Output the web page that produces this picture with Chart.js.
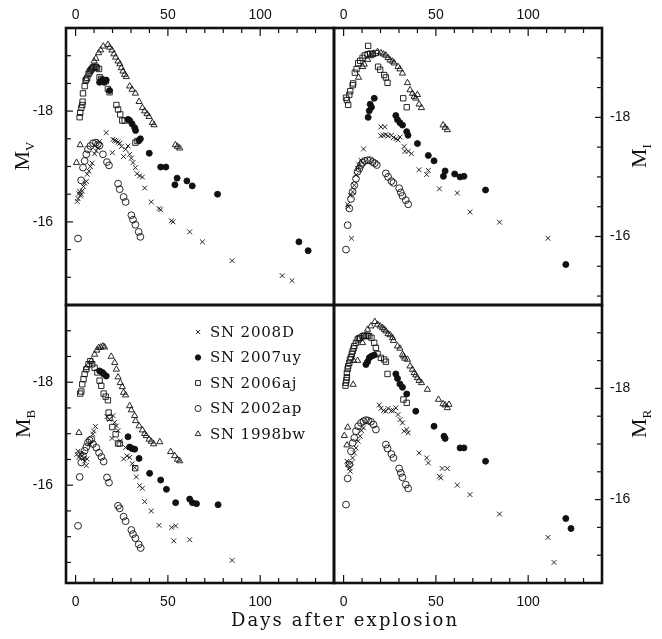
<!DOCTYPE html>
<html>
<head>
<meta charset="utf-8">
<title>SN light curves</title>
<script src="https://cdn.jsdelivr.net/npm/chart.js@4.4.1/dist/chart.umd.min.js"></script>
<style>
  body { margin: 0; background: #fff; }
  #wrap { position: relative; width: 662px; height: 639px; overflow: hidden; background: #fff; }
  #wrap canvas { position: absolute; left: 0; top: 0; }
  .ylab { position: absolute; font-family: "Liberation Serif", serif; font-size: 22px; line-height: 1;
          white-space: nowrap; color: #111; transform: translate(-50%, -50%) rotate(-90deg); }
  .ylab sub { font-size: 13px; vertical-align: -5px; }
  #xtitle { position: absolute; left: 345px; top: 611px; transform: translateX(-50%); white-space: nowrap;
            font-family: "DejaVu Serif", serif; font-size: 18px; letter-spacing: 2.1px; color: #111; line-height: 1; }
</style>
</head>
<body>
<div id="wrap">
  <canvas id="panel-v" width="662" height="639"></canvas>
  <canvas id="panel-i" width="662" height="639"></canvas>
  <canvas id="panel-b" width="662" height="639"></canvas>
  <canvas id="panel-r" width="662" height="639"></canvas>
  <div class="ylab" style="left:23px; top:156px;">M<sub>V</sub></div>
  <div class="ylab" style="left:640px; top:156px;">M<sub>I</sub></div>
  <div class="ylab" style="left:24px; top:424px;">M<sub>B</sub></div>
  <div class="ylab" style="left:640px; top:424px;">M<sub>R</sub></div>
  <div id="xtitle">Days after explosion</div>
</div>
<script>
// series names (legend order) and axis tick labels
const seriesNames = ["SN 2008D", "SN 2007uy", "SN 2006aj", "SN 2002ap", "SN 1998bw"];
const xTickLabels = [0, 50, 100];
const yTickLabels = [-18, -16];

// [days after explosion, absolute magnitude]

// V band
const v2008D = [[0.9,-16.37],[1.3,-16.42],[1.8,-16.51],[2.2,-16.55],[2.6,-16.47],[3.1,-16.5],[3.6,-16.56],[4.3,-16.64],[4.9,-16.7],[5.8,-16.73],[6.3,-16.86],[7.2,-16.92],[8.0,-17.0],[9.0,-17.06],[10.3,-17.23],[11.2,-17.28],[12.1,-17.34],[13.0,-17.45],[16.6,-17.61],[19.9,-17.25],[20.2,-17.49],[21.1,-17.47],[22.0,-17.46],[23.0,-17.44],[23.9,-17.42],[24.8,-17.36],[26.0,-17.18],[27.1,-17.31],[28.4,-17.37],[29.3,-17.22],[30.2,-17.15],[31.1,-17.07],[32.4,-16.98],[33.3,-16.87],[34.7,-16.83],[36.2,-16.81],[37.4,-16.61],[41.0,-16.36],[45.2,-16.24],[46.1,-16.22],[51.9,-16.02],[52.8,-16.0],[61.8,-15.82],[68.7,-15.64],[84.8,-15.3],[111.9,-15.03],[117.3,-14.94]];
const v2007uy = [[13.0,-18.52],[14.3,-18.56],[15.5,-18.52],[16.6,-18.56],[18.4,-18.37],[28.4,-17.85],[29.3,-17.83],[30.6,-17.77],[32.0,-17.7],[32.5,-17.65],[34.4,-17.47],[35.1,-17.5],[39.9,-17.24],[46.1,-16.99],[48.9,-16.99],[53.8,-16.67],[55.0,-16.79],[60.3,-16.74],[63.2,-16.65],[76.9,-16.5],[121.0,-15.64],[126.0,-15.48]];
const v2006aj = [[2.2,-17.89],[2.5,-17.97],[3.1,-18.06],[3.6,-18.11],[3.8,-18.17],[4.0,-18.32],[4.9,-18.45],[5.4,-18.55],[5.8,-18.57],[6.3,-18.6],[7.0,-18.67],[7.5,-18.7],[8.0,-18.73],[8.5,-18.75],[9.0,-18.77],[9.5,-18.79],[10.3,-18.8],[11.0,-18.8],[11.6,-18.78],[12.7,-18.76],[13.0,-18.61],[13.9,-18.58],[14.8,-18.55],[16.3,-18.54],[17.5,-18.4],[18.4,-18.34],[22.1,-18.11],[23.0,-18.03],[24.2,-17.94],[25.3,-17.83],[26.6,-17.83],[32.4,-17.43],[33.5,-17.46]];
const v2002ap = [[1.3,-15.7],[3.0,-16.75],[4.0,-16.98],[4.9,-17.1],[5.8,-17.22],[6.7,-17.31],[8.0,-17.37],[9.5,-17.42],[11.0,-17.43],[12.1,-17.4],[13.0,-17.38],[14.8,-17.22],[17.0,-17.08],[18.1,-17.02],[23.0,-16.69],[23.9,-16.59],[26.0,-16.45],[27.1,-16.36],[30.2,-16.12],[31.1,-16.04],[32.4,-15.95],[34.2,-15.82],[35.1,-15.73]];
const v1998bw = [[0.5,-17.07],[2.5,-17.39],[10.0,-18.9],[11.0,-18.95],[12.5,-19.05],[13.5,-19.1],[15.0,-19.17],[17.5,-19.2],[18.5,-19.15],[19.7,-19.1],[20.8,-19.03],[21.7,-18.97],[23.0,-18.9],[24.0,-18.85],[24.8,-18.78],[25.7,-18.72],[26.6,-18.66],[27.5,-18.62],[29.3,-18.45],[30.6,-18.39],[32.4,-18.32],[34.4,-18.17],[36.2,-18.06],[37.4,-18.0],[38.7,-17.95],[39.8,-17.9],[41.6,-17.79],[42.5,-17.75],[54.1,-17.39],[55.2,-17.36],[56.4,-17.33]];

// I band
const i2008D = [[2.2,-16.54],[2.6,-16.5],[3.6,-16.69],[4.3,-15.97],[4.9,-16.75],[5.8,-16.86],[6.7,-17.03],[7.6,-17.14],[8.5,-17.2],[9.4,-17.28],[10.8,-17.47],[20.2,-17.84],[22.3,-17.84],[20.2,-17.69],[21.6,-17.7],[22.9,-17.71],[24.1,-17.69],[25.9,-17.7],[27.0,-17.66],[28.3,-17.64],[29.5,-17.62],[30.6,-17.67],[32.8,-17.51],[33.2,-17.43],[35.0,-17.43],[36.8,-17.39],[40.9,-17.12],[45.0,-17.04],[45.9,-17.11],[51.9,-16.8],[61.6,-16.73],[68.5,-16.41],[84.5,-16.24],[110.7,-15.97]];
const i2007uy = [[13.3,-18.0],[13.9,-18.11],[14.4,-18.22],[15.1,-18.17],[16.6,-18.32],[28.3,-18.03],[29.2,-17.96],[30.5,-17.91],[31.9,-17.87],[34.2,-17.76],[34.9,-17.7],[40.0,-17.56],[45.9,-17.36],[49.0,-17.27],[54.1,-17.01],[55.0,-17.1],[60.2,-17.05],[63.1,-17.0],[65.2,-17.01],[76.9,-16.78],[120.4,-15.53]];
const i2006aj = [[1.3,-18.33],[1.8,-18.29],[2.5,-18.21],[3.1,-18.38],[3.6,-18.44],[4.9,-18.54],[5.2,-18.57],[6.1,-18.75],[7.0,-18.81],[7.9,-18.91],[9.0,-18.95],[10.3,-19.0],[11.5,-19.04],[13.0,-19.06],[13.3,-19.2],[14.4,-19.07],[15.7,-19.06],[17.5,-19.08],[18.7,-18.85],[19.8,-18.8],[22.0,-18.71],[22.9,-18.67],[23.8,-18.58],[32.3,-18.32],[34.2,-18.17]];
const i2002ap = [[1.3,-15.78],[2.2,-16.19],[3.1,-16.47],[4.0,-16.63],[4.9,-16.75],[5.8,-16.86],[6.7,-16.97],[7.6,-17.09],[8.5,-17.14],[9.4,-17.2],[10.3,-17.24],[11.5,-17.27],[13.0,-17.28],[14.4,-17.28],[15.7,-17.25],[16.9,-17.23],[18.0,-17.2],[22.9,-17.06],[24.1,-17.0],[25.9,-16.93],[27.0,-16.9],[30.1,-16.81],[31.0,-16.74],[31.9,-16.68],[33.7,-16.61],[35.0,-16.54]];
const i1998bw = [[8.1,-18.67],[10.3,-18.85],[11.2,-18.89],[13.0,-18.97],[14.4,-19.03],[16.0,-19.06],[18.4,-19.1],[20.2,-19.08],[21.6,-19.06],[22.9,-19.04],[24.1,-19.0],[25.2,-18.96],[26.5,-18.94],[27.4,-18.91],[29.5,-18.85],[30.5,-18.81],[31.9,-18.74],[34.6,-18.58],[36.0,-18.46],[37.3,-18.4],[38.2,-18.35],[39.1,-18.32],[40.0,-18.38],[40.9,-18.22],[42.2,-18.16],[53.9,-17.87],[55.0,-17.83],[56.2,-17.79]];

// B band
const b2008D = [[0.7,-16.6],[1.3,-16.66],[1.8,-16.54],[2.5,-16.6],[3.1,-16.63],[3.6,-16.57],[4.3,-16.52],[4.9,-16.47],[5.8,-16.38],[6.2,-16.51],[7.6,-16.8],[9.4,-16.99],[9.8,-17.05],[10.7,-17.14],[17.0,-17.33],[18.4,-17.28],[19.7,-16.91],[20.3,-17.35],[21.2,-17.22],[22.1,-17.15],[23.0,-17.06],[24.2,-16.86],[26.0,-16.51],[27.1,-16.73],[27.8,-16.57],[29.3,-16.54],[30.7,-16.42],[32.0,-16.34],[32.9,-16.16],[34.7,-15.99],[36.2,-15.94],[37.4,-15.68],[41.0,-15.5],[45.2,-15.22],[52.1,-15.18],[53.2,-14.92],[54.2,-15.21],[61.8,-14.94],[84.8,-14.54]];
const b2007uy = [[13.0,-18.22],[14.5,-18.19],[15.2,-18.16],[16.6,-18.12],[28.4,-16.94],[29.3,-16.74],[30.7,-16.71],[32.0,-16.7],[34.4,-16.52],[40.1,-16.23],[46.1,-16.1],[49.2,-15.92],[54.2,-15.66],[61.8,-15.73],[63.3,-15.66],[65.5,-15.64],[77.2,-15.62]];
const b2006aj = [[2.5,-17.78],[3.1,-17.82],[3.6,-17.96],[4.3,-18.06],[4.9,-18.16],[5.8,-18.25],[7.0,-18.35],[8.0,-18.41],[9.0,-18.35],[10.3,-18.28],[11.8,-18.19],[13.0,-18.03],[13.9,-17.93],[15.2,-17.78],[16.3,-17.72],[17.5,-17.65],[17.9,-17.41],[18.4,-17.31],[19.9,-17.13],[21.7,-16.99],[23.0,-16.81],[23.9,-16.81],[32.3,-16.33]];
const b2002ap = [[1.3,-15.21],[2.2,-16.16],[3.1,-16.44],[4.0,-16.57],[4.9,-16.67],[5.8,-16.74],[6.7,-16.83],[7.6,-16.87],[8.5,-16.89],[9.4,-16.8],[11.2,-16.73],[12.7,-16.63],[14.0,-16.55],[15.2,-16.46],[17.0,-16.15],[18.1,-16.05],[23.0,-15.6],[23.9,-15.55],[26.0,-15.39],[27.1,-15.3],[30.2,-15.13],[31.1,-15.05],[32.4,-14.97],[34.2,-14.85],[35.3,-14.78]];
const b1998bw = [[1.8,-17.02],[5.8,-18.28],[8.5,-18.41],[10.3,-18.54],[11.5,-18.62],[12.5,-18.67],[13.6,-18.68],[14.8,-18.7],[15.7,-18.68],[19.3,-18.5],[21.2,-18.38],[22.1,-18.25],[23.0,-18.1],[24.2,-17.99],[25.3,-17.91],[26.0,-17.8],[27.1,-17.75],[29.3,-17.54],[30.2,-17.46],[32.0,-17.35],[32.5,-17.25],[34.4,-17.15],[36.2,-17.07],[37.4,-17.0],[38.3,-16.96],[39.8,-16.89],[41.0,-16.85],[42.3,-16.8],[45.6,-16.84],[51.5,-16.65],[53.7,-16.57],[55.2,-16.5],[56.4,-16.47]];

// R band
const r2008D = [[1.8,-16.69],[2.2,-16.63],[3.1,-16.57],[3.6,-16.51],[4.3,-16.66],[4.9,-16.75],[5.8,-16.84],[6.7,-16.93],[7.9,-17.05],[9.0,-17.14],[9.7,-17.24],[10.8,-17.29],[19.3,-17.7],[20.2,-17.64],[21.6,-17.6],[22.9,-17.59],[24.1,-17.64],[25.9,-17.6],[27.0,-17.6],[28.3,-17.65],[29.5,-17.53],[30.6,-17.44],[31.9,-17.38],[32.8,-17.23],[34.2,-17.26],[35.0,-17.2],[40.9,-16.84],[45.0,-16.75],[45.9,-16.66],[51.9,-16.42],[52.6,-16.39],[53.4,-16.56],[56.2,-16.56],[61.6,-16.26],[68.5,-16.09],[84.5,-15.74],[110.7,-15.32],[114.0,-14.87]];
const r2007uy = [[12.1,-18.43],[13.0,-18.48],[13.9,-18.55],[15.1,-18.58],[16.6,-18.6],[28.3,-18.26],[29.2,-18.18],[30.5,-18.08],[31.9,-18.02],[34.2,-17.9],[39.1,-17.59],[49.0,-17.32],[54.4,-17.14],[55.0,-17.1],[63.1,-16.93],[65.2,-16.93],[76.9,-16.69],[120.4,-15.66],[123.2,-15.48]];
const r2006aj = [[1.0,-18.05],[1.3,-18.1],[1.5,-18.15],[1.8,-18.2],[1.8,-18.28],[2.2,-18.35],[2.5,-18.4],[3.1,-18.46],[3.5,-18.52],[4.0,-18.56],[4.5,-18.62],[4.9,-18.67],[5.4,-18.72],[5.8,-18.76],[6.7,-18.82],[7.6,-18.88],[8.3,-18.9],[9.0,-18.91],[10.3,-18.94],[11.2,-18.95],[12.1,-18.94],[13.0,-18.95],[13.9,-18.94],[15.1,-18.91],[16.6,-18.82],[17.5,-18.73],[18.4,-18.62],[20.2,-18.55],[22.0,-18.52],[22.9,-18.48],[23.8,-18.26],[32.4,-17.8],[34.2,-17.74]];
const r2002ap = [[1.3,-15.91],[2.2,-16.38],[3.1,-16.63],[4.0,-16.87],[4.9,-17.02],[5.8,-17.11],[6.7,-17.23],[7.9,-17.32],[9.4,-17.38],[10.8,-17.41],[12.1,-17.43],[13.3,-17.42],[14.8,-17.4],[16.2,-17.35],[17.5,-17.26],[22.9,-16.99],[23.8,-16.92],[25.9,-16.82],[27.0,-16.75],[30.1,-16.56],[31.0,-16.48],[31.9,-16.4],[33.7,-16.27],[35.0,-16.2]];
const r1998bw = [[0.4,-17.15],[1.8,-16.98],[2.2,-17.3],[5.2,-18.07],[5.4,-18.5],[7.6,-18.5],[10.3,-18.82],[13.0,-19.06],[14.8,-19.12],[16.9,-19.2],[18.4,-19.15],[19.8,-19.12],[21.1,-19.09],[22.0,-19.06],[22.9,-19.03],[24.1,-18.98],[25.2,-18.96],[26.5,-18.91],[27.0,-18.86],[29.2,-18.76],[30.5,-18.72],[31.9,-18.61],[32.5,-18.58],[33.2,-18.54],[34.6,-18.52],[36.0,-18.4],[37.3,-18.34],[38.2,-18.28],[39.1,-18.24],[40.0,-18.19],[40.9,-18.14],[42.2,-18.1],[45.4,-17.98],[51.4,-17.8],[53.9,-17.72],[55.0,-17.7],[56.2,-17.65],[57.1,-17.71]];

// marker look for each SN, same order as seriesNames
const markers = [
    { pointStyle: 'crossRot', radius: 3.4, filled: false },
    { pointStyle: 'circle',   radius: 3.0, filled: true  },
    { pointStyle: 'rect',     radius: 3.8, filled: false },
    { pointStyle: 'circle',   radius: 3.4, filled: false },
    { pointStyle: 'triangle', radius: 3.6, filled: false }
];

Chart.defaults.font.family = "'Liberation Sans', Arial, sans-serif";
Chart.defaults.font.size = 14;
Chart.defaults.color = '#111';

// inward tick marks + heavy frame round each panel
const frameTicks = {
    id: 'frameTicks',
    afterDatasetsDraw(chart) {
        const ctx = chart.ctx;
        const a = chart.chartArea;
        ctx.save();
        ctx.strokeStyle = '#111';
        ctx.lineWidth = 1.2;
        Object.values(chart.scales).forEach(s => {
            const lo = Math.min(s.min, s.max), hi = Math.max(s.min, s.max);
            s.ticks.forEach(t => {
                if (t.value <= lo || t.value >= hi) return;
                const major = t.label !== '';
                const p = s.getPixelForValue(t.value);
                ctx.beginPath();
                if (s.position === 'top') {
                    ctx.moveTo(p, a.top); ctx.lineTo(p, a.top + (major ? 8 : 5));
                } else if (s.position === 'bottom') {
                    ctx.moveTo(p, a.bottom); ctx.lineTo(p, a.bottom - (major ? 8 : 5));
                } else if (s.position === 'left') {
                    ctx.moveTo(a.left, p); ctx.lineTo(a.left + (major ? 7 : 5), p);
                } else {
                    ctx.moveTo(a.right, p); ctx.lineTo(a.right - (major ? 7 : 5), p);
                }
                ctx.stroke();
            });
        });
        ctx.lineWidth = 2.6;
        ctx.strokeRect(a.left, a.top, a.right - a.left, a.bottom - a.top);
        ctx.restore();
    }
};

// legend inside the B panel
const legendBox = {
    id: 'legendBox',
    afterDatasetsDraw(chart) {
        const ctx = chart.ctx;
        const a = chart.chartArea;
        ctx.save();
        ctx.font = '15px "DejaVu Serif", serif';
        ctx.letterSpacing = '0.8px';
        ctx.textBaseline = 'middle';
        ctx.fillStyle = '#111';
        seriesNames.forEach((name, i) => {
            const y = a.top + 27 + i * 25.5;
            const x = a.left + 132;
            const m = markers[i];
            ctx.strokeStyle = '#111';
            ctx.fillStyle = m.filled ? '#111' : 'rgba(0,0,0,0)';
            ctx.lineWidth = 0.9;
            Chart.helpers.drawPoint(ctx, { pointStyle: m.pointStyle, radius: m.radius * 0.9, rotation: 0, borderWidth: 0.9 }, x, y);
            ctx.fillStyle = '#111';
            ctx.fillText(name, x + 12, y + 1);
        });
        ctx.restore();
    }
};

function toPoints(arr) {
    return arr.map(p => ({ x: p[0], y: p[1] }));
}

function lightCurvePanel(canvasId, band, yMax, xSide, ySide, padding, extraPlugins) {
    return new Chart(document.getElementById(canvasId), {
        type: 'scatter',
        data: {
            datasets: band.map((arr, i) => ({
                label: seriesNames[i],
                data: toPoints(arr),
                pointStyle: markers[i].pointStyle,
                pointRadius: markers[i].radius,
                borderColor: '#111',
                backgroundColor: markers[i].filled ? '#111' : 'rgba(0,0,0,0)',
                borderWidth: 0.9,
                showLine: false
            }))
        },
        options: {
            responsive: false,
            animation: false,
            events: [],
            layout: { padding: padding },
            plugins: { legend: { display: false }, tooltip: { enabled: false } },
            scales: {
                x: {
                    type: 'linear',
                    position: xSide,
                    min: -5.2,
                    max: 140,
                    grid: { display: false, drawTicks: false },
                    border: { display: false },
                    ticks: {
                        stepSize: 10,
                        includeBounds: false,
                        autoSkip: false,
                        maxRotation: 0,
                        padding: xSide === 'top' ? 4 : 11,
                        callback: v => xTickLabels.includes(v) ? String(v) : ''
                    },
                    afterFit: s => { s.height = xSide === 'top' ? 28 : 56; }
                },
                y: {
                    type: 'linear',
                    position: ySide,
                    reverse: true,
                    min: -19.5,
                    max: yMax,
                    grid: { display: false, drawTicks: false },
                    border: { display: false },
                    ticks: {
                        stepSize: 0.5,
                        includeBounds: false,
                        autoSkip: false,
                        padding: ySide === 'left' ? 13 : 8,
                        callback: v => yTickLabels.includes(v) ? String(v) : ''
                    },
                    afterFit: s => { s.width = ySide === 'left' ? 66 : 60; }
                }
            }
        },
        plugins: [frameTicks].concat(extraPlugins || [])
    });
}

lightCurvePanel('panel-v', [v2008D, v2007uy, v2006aj, v2002ap, v1998bw], -14.5, 'top', 'left',
    { left: 0, top: 0, right: 328, bottom: 334 });
lightCurvePanel('panel-i', [i2008D, i2007uy, i2006aj, i2002ap, i1998bw], -14.85, 'top', 'right',
    { left: 334, top: 0, right: 0, bottom: 334 });
lightCurvePanel('panel-b', [b2008D, b2007uy, b2006aj, b2002ap, b1998bw], -14.1, 'bottom', 'left',
    { left: 0, top: 305, right: 328, bottom: 0 }, [legendBox]);
lightCurvePanel('panel-r', [r2008D, r2007uy, r2006aj, r2002ap, r1998bw], -14.5, 'bottom', 'right',
    { left: 334, top: 305, right: 0, bottom: 0 });
</script>
</body>
</html>
